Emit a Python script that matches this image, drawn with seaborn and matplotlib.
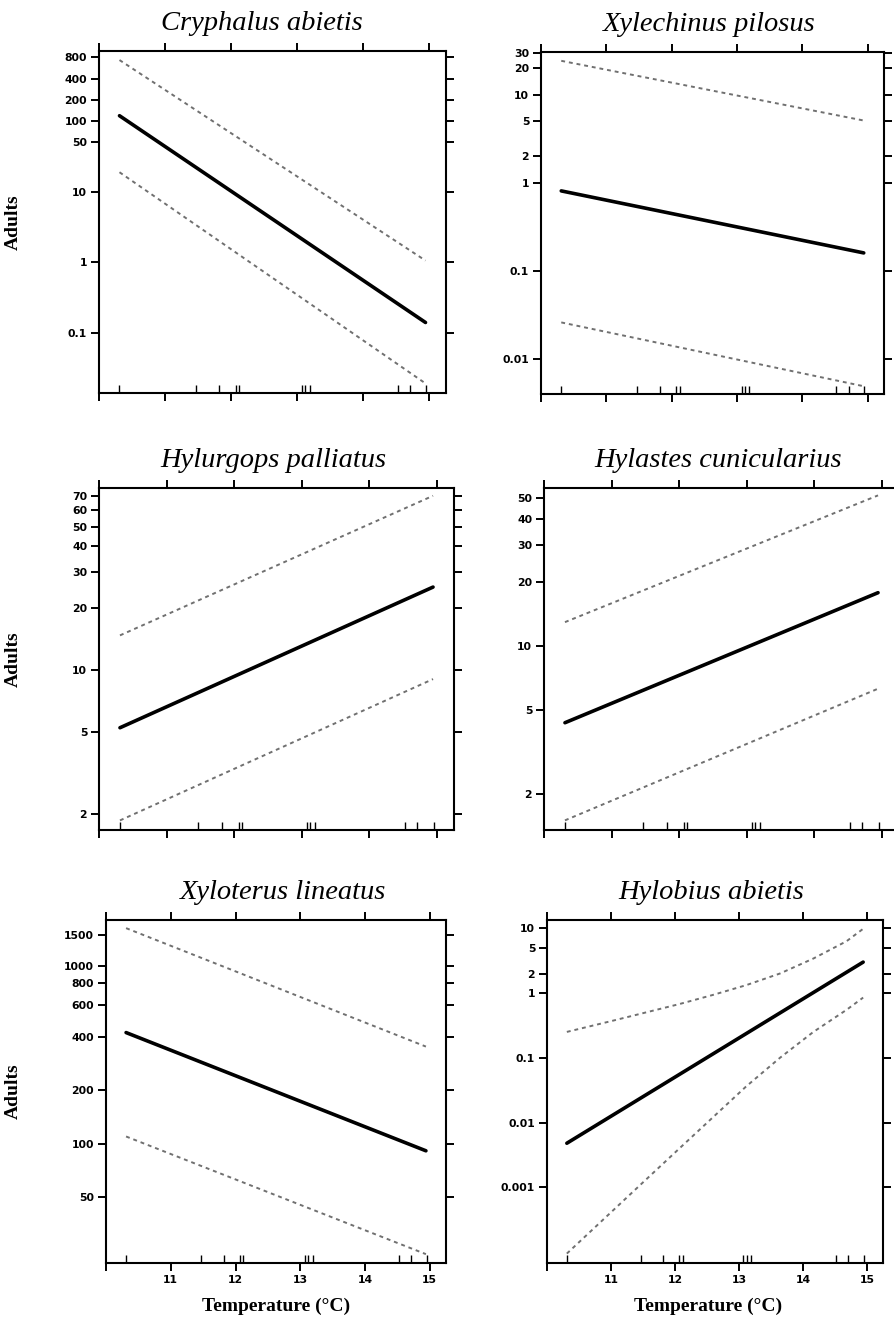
import matplotlib
matplotlib.use("Agg")
import matplotlib.pyplot as plt
import seaborn as sns
from matplotlib.ticker import FixedLocator, FixedFormatter, NullLocator

# temperature range covered by the fitted effect lines
temp_span = [10.31, 14.94]

# rug of observed site temperatures
rug_temps = [10.31, 11.47, 11.82, 12.07, 12.12, 13.07, 13.12, 13.19, 14.52, 14.71, 14.95]

# fitted values and 95% bounds at the two ends of the range
cryphalus_fit = [119, 0.139]
cryphalus_low = [18.8, 0.019]
cryphalus_high = [733, 1.05]

xylechinus_fit = [0.81, 0.16]
xylechinus_low = [0.026, 0.0049]
xylechinus_high = [24.3, 5.1]

hylurgops_fit = [5.27, 25.4]
hylurgops_low = [1.87, 9.08]
hylurgops_high = [14.8, 70.5]

hylastes_fit = [4.36, 17.9]
hylastes_low = [1.51, 6.31]
hylastes_high = [13.0, 51.5]

xyloterus_fit = [422, 91.4]
xyloterus_low = [110, 24]
xyloterus_high = [1630, 352]

# Hylobius bounds are curved, so read at several temperatures
hylobius_fit = [0.0048, 3.0]
hylobius_ci_temps = [10.31, 11.02, 11.54, 12.07, 12.59, 13.11, 13.64, 14.16, 14.68, 14.94]
hylobius_low = [9.5e-5, 4.3e-4, 1.3e-3, 0.004, 0.012, 0.036, 0.10, 0.25, 0.55, 0.85]
hylobius_high = [0.251, 0.372, 0.50, 0.676, 0.933, 1.32, 2.0, 3.4, 6.3, 9.8]

species = ["Cryphalus abietis", "Xylechinus pilosus", "Hylurgops palliatus",
           "Hylastes cunicularius", "Xyloterus lineatus", "Hylobius abietis"]

y_ticks = [
    [0.1, 1, 10, 50, 100, 200, 400, 800],
    [0.01, 0.1, 1, 2, 5, 10, 20, 30],
    [2, 5, 10, 20, 30, 40, 50, 60, 70],
    [2, 5, 10, 20, 30, 40, 50],
    [50, 100, 200, 400, 600, 800, 1000, 1500],
    [0.001, 0.01, 0.1, 1, 2, 5, 10],
]
y_ticklabels = [
    ["0.1", "1", "10", "50", "100", "200", "400", "800"],
    ["0.01", "0.1", "1", "2", "5", "10", "20", "30"],
    ["2", "5", "10", "20", "30", "40", "50", "60", "70"],
    ["2", "5", "10", "20", "30", "40", "50"],
    ["50", "100", "200", "400", "600", "800", "1000", "1500"],
    ["0.001", "0.01", "0.1", "1", "2", "5", "10"],
]
y_limits = [(0.0139, 985), (0.004, 30.6), (1.68, 76.9),
            (1.36, 55.8), (21.4, 1811), (6.8e-5, 13.4)]

x_ticks = [10, 11, 12, 13, 14, 15]
x_ticklabels = ["", "11", "12", "13", "14", "15"]

sns.set_style("ticks")
plt.rcParams["text.color"] = "black"
plt.rcParams["axes.labelcolor"] = "black"
plt.rcParams["xtick.color"] = "black"
plt.rcParams["ytick.color"] = "black"

W, H = 895, 1319
fig = plt.figure(figsize=(W / 100, H / 100), dpi=100)

# panel boxes in pixels: left, top, right, bottom
boxes = [(99, 51, 446, 393), (541, 52, 884, 394),
         (99, 488, 454, 830), (544, 488, 899, 830),
         (106, 920, 446, 1263), (547, 920, 883, 1263)]
title_x = [0.47, 0.49, 0.49, 0.49, 0.52, 0.49]

lines = [
    (temp_span, cryphalus_fit, temp_span, cryphalus_low, cryphalus_high),
    (temp_span, xylechinus_fit, temp_span, xylechinus_low, xylechinus_high),
    (temp_span, hylurgops_fit, temp_span, hylurgops_low, hylurgops_high),
    (temp_span, hylastes_fit, temp_span, hylastes_low, hylastes_high),
    (temp_span, xyloterus_fit, temp_span, xyloterus_low, xyloterus_high),
    (temp_span, hylobius_fit, hylobius_ci_temps, hylobius_low, hylobius_high),
]

for i, (l, t, r, b) in enumerate(boxes):
    ax = fig.add_axes([l / W, 1 - b / H, (r - l) / W, (b - t) / H])
    fx, fy, cx, lo, hi = lines[i]

    sns.lineplot(x=cx, y=hi, ax=ax, color="#707070", lw=1.4,
                 linestyle=(0, (2.0, 2.0)))
    sns.lineplot(x=cx, y=lo, ax=ax, color="#707070", lw=1.4,
                 linestyle=(0, (2.0, 2.0)))
    sns.lineplot(x=fx, y=fy, ax=ax, color="black", lw=2.6)
    sns.rugplot(x=rug_temps, ax=ax, height=8 / (b - t), color="black",
                lw=1.5, expand_margins=False)

    ax.set_yscale("log")
    ax.set_xlim(10, 15.25)
    ax.set_ylim(*y_limits[i])

    ax.yaxis.set_major_locator(FixedLocator(y_ticks[i]))
    ax.yaxis.set_major_formatter(FixedFormatter(y_ticklabels[i]))
    ax.yaxis.set_minor_locator(NullLocator())
    ax.set_xticks(x_ticks)
    if i >= 4:
        ax.set_xticklabels(x_ticklabels)
    else:
        ax.set_xticklabels([""] * len(x_ticks))

    ax.tick_params(axis="both", which="major", direction="out", length=6,
                   width=1.4, color="black", labelcolor="black",
                   top=True, right=True, pad=2.5)
    for lab in ax.get_xticklabels() + ax.get_yticklabels():
        lab.set_fontfamily("DejaVu Sans")
        lab.set_fontweight("bold")
        lab.set_fontsize(7.8)

    for sp in ax.spines.values():
        sp.set_visible(True)
        sp.set_linewidth(1.5)
        sp.set_color("black")

    ax.text(title_x[i], 1.062, species[i], transform=ax.transAxes,
            ha="center", va="baseline", fontsize=20.5, style="italic",
            family="Liberation Serif", color="black")

    if i % 2 == 0:
        ax.set_ylabel("Adults", fontsize=14, fontweight="bold",
                      family="Liberation Serif")
        ax.yaxis.set_label_coords((22 - l) / (r - l), 0.5)
    else:
        ax.set_ylabel("")

    if i >= 4:
        ax.set_xlabel("Temperature (°C)", fontsize=14, fontweight="bold",
                      family="Liberation Serif")
        ax.xaxis.set_label_coords(0.5 if i == 4 else 0.48, -0.10)
    else:
        ax.set_xlabel("")

fig.savefig("out.png", dpi=100)
